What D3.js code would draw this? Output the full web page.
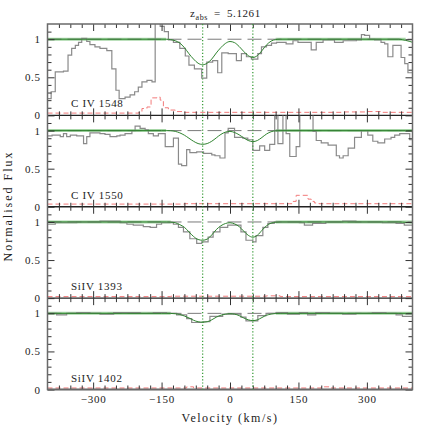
<!DOCTYPE html>
<html>
<head>
<meta charset="utf-8">
<script src="https://cdn.jsdelivr.net/npm/d3@7"></script>
<style>
  body { margin: 0; background: #fff; }
  svg { display: block; }
  text { font-family: "Liberation Serif", "Times New Roman", serif; fill: #222; }
</style>
</head>
<body>
<div id="chart"></div>
<script>
// ion names per panel, top to bottom
var lineNames = ["C IV 1548", "C IV 1550", "SiIV 1393", "SiIV 1402"];

// velocities of the two fitted components (km/s)
var compVel = [-60, 50];

// tick values
var xMajorTicks = [-300, -150, 0, 150, 300];
var yMajorTicks = [0, 0.5, 1];
var yTickLabels = ["0", "0.5", "1"];
var yMinorTicks = [0.1, 0.2, 0.3, 0.4, 0.6, 0.7, 0.8, 0.9, 1.1];
var zabs = "5.1261";

// observed flux, step histograms: bin edges and flux per bin
var c1548Edges = [-400,-392,-383,-365,-355,-347,-339,-332,-325,-314,-307,-296,-285,-270,-259,-250,-243,-230,-219,-209,-201,-193,-182,-171,-164,-153,-144,-135,-124,-110,-98,-90,-78,-62,-51,-38,-27,-18,-4,14,25,36,47,61,69,80,91,102,123,138,149,167,178,189,204,229,248,277,288,295,306,317,331,339,346,357,368,375,383,390,400];
var c1548Flux = [0.22,0.31,0.57,0.58,0.79,0.88,0.92,0.96,1.01,0.97, 0.93,0.90,0.88,0.85,0.61,0.33,0.22,0.24,0.27,0.31, 0.37,0.44,0.46,0.44,1.3,1.17,1.1,0.99,0.96,0.88, 0.78,0.66,0.61,0.49,0.70,0.72,0.56,0.82,0.81,0.72, 0.81,0.77,0.74,0.81,0.90,0.92,0.95,0.96,0.94,0.98, 0.96,0.96,0.86,0.96,0.99,0.96,0.98,0.99,1.06,1.05, 1.0,0.99,0.96,0.94,0.77,0.92,0.92,0.76,0.68,0.56];

var c1550Edges = [-400,-390,-372,-365,-358,-350,-336,-321,-314,-307,-285,-274,-263,-248,-241,-230,-215,-208,-197,-186,-179,-168,-157,-142,-124,-113,-106,-95,-88,-73,-58,-40,-33,-22,-11,-4,10,28,39,50,65,76,87,98,105,116,123,131,145,153,182,189,200,215,233,240,248,259,273,288,302,313,324,339,353,361,372,386,394,400];
var c1550Flux = [0.93,0.94,0.92,0.96,0.92,0.94,0.93,0.83,0.92,0.97, 0.96,0.95,0.92,0.93,0.94,0.96,1.0,1.06,1.03,1.01, 0.96,0.93,0.96,0.79,0.90,0.56,0.54,0.75,0.71,0.72, 0.70,0.68,0.67,0.64,0.97,1.03,0.91,0.90,0.88,0.74, 0.80,0.74,0.82,1.3,0.83,1.3,0.96,0.66,0.79,1.3, 0.99,0.87,0.84,0.81,0.67,0.64,0.67,0.77,0.91,1.0, 0.94,0.86,0.84,0.89,0.91,0.94,0.96,0.96,0.88];

var si1393Edges = [-400,-383,-358,-336,-314,-285,-255,-241,-226,-212,-190,-175,-161,-150,-124,-113,-102,-88,-73,-62,-48,-37,-22,-5,24,35,50,57,72,83,97,152,163,181,210,247,276,305,334,364,382,400];
var si1393Flux = [0.97,0.99,0.99,1.0,1.0,1.01,1.01,0.99,0.97,0.96, 0.94,0.93,0.97,0.99,0.97,0.93,0.87,0.78,0.72,0.74, 0.80,0.87,0.93,0.96,0.87,0.76,0.74,0.82,0.93,0.98, 1.0,0.99,0.96,0.98,1.0,1.01,1.0,1.0,0.99,0.98, 0.96];

var si1402Edges = [-400,-380,-358,-336,-307,-285,-255,-226,-197,-168,-139,-117,-95,-84,-58,-44,-16,6,24,35,61,79,101,126,152,170,188,218,247,276,312,342,364,378,400];
var si1402Flux = [1.0,0.98,1.0,1.01,1.0,0.99,1.01,1.01,1.0,1.01, 1.0,0.98,0.93,0.88,0.89,0.96,0.99,0.99,0.95,0.90, 0.97,1.0,1.01,0.99,1.01,0.98,1.01,1.0,0.99,1.0, 1.01,1.0,0.98,0.96];

// error spectra (steps)
var err1548V = [-400,-200,-193,-182,-173,-160,-153,-146,-135,-120,-100,250,300,330,400];
var err1548E = [0.03,0.04,0.09,0.11,0.23,0.24,0.20,0.10,0.07,0.05,0.04,0.045,0.05,0.04,0.04];
var err1550V = [-400,-100,130,138,145,171,178,185,195,400];
var err1550E = [0.035,0.04,0.04,0.07,0.15,0.10,0.07,0.05,0.04,0.04];
var err1393V = [-400,-150,-130,80,110,400];
var err1393E = [0.02,0.02,0.025,0.03,0.02,0.02];
var err1402V = [-400,-110,-95,-80,180,200,220,400];
var err1402E = [0.02,0.02,0.035,0.02,0.02,0.035,0.02,0.02];

// fitted model, sampled velocities and values per panel
var modelV = [-400,-150,-140,-130,-120,-110,-100,-90,-80,-70,-60,-50,-40,-30,-20,-10,0,10,20,30,40,50,60,70,80,90,100,110,370,385,400];
var model1548 = [1,1,1,0.995,0.98,0.95,0.89,0.81,0.74,0.685,0.665,0.685,0.74,0.82,0.89,0.945,0.97,0.955,0.905,0.84,0.785,0.76,0.785,0.85,0.925,0.975,0.995,1,1,0.985,0.96];
var model1550 = [1,1,1,0.998,0.99,0.97,0.94,0.90,0.86,0.83,0.82,0.83,0.86,0.905,0.95,0.98,0.99,0.975,0.945,0.905,0.87,0.855,0.87,0.91,0.955,0.985,0.997,1,1,1,1];
var model1393 = [1,1,1,0.998,0.99,0.965,0.93,0.87,0.81,0.77,0.76,0.775,0.83,0.9,0.95,0.98,0.99,0.975,0.94,0.88,0.825,0.80,0.825,0.89,0.95,0.985,0.997,1,1,0.995,0.99];
var model1402 = [1,1,1,0.999,0.995,0.985,0.965,0.94,0.91,0.89,0.885,0.89,0.915,0.95,0.975,0.99,0.995,0.99,0.97,0.94,0.915,0.905,0.915,0.945,0.975,0.99,0.998,1,1,1,1];

// light green continuum stretches
var cont1548 = [[-400,-140],[100,385]];
var cont1550 = [[-400,-140],[100,400]];
var cont1393 = [[-400,-130],[100,400]];
var cont1402 = [[-400,-130],[100,400]];

var panels = [
  {name: lineNames[0], edges: c1548Edges, flux: c1548Flux, errV: err1548V, errE: err1548E, model: model1548, cont: cont1548},
  {name: lineNames[1], edges: c1550Edges, flux: c1550Flux, errV: err1550V, errE: err1550E, model: model1550, cont: cont1550},
  {name: lineNames[2], edges: si1393Edges, flux: si1393Flux, errV: err1393V, errE: err1393E, model: model1393, cont: cont1393},
  {name: lineNames[3], edges: si1402Edges, flux: si1402Flux, errV: err1402V, errE: err1402E, model: model1402, cont: cont1402}
];

var serif = "'Liberation Serif', 'Times New Roman', serif";

// dimensions
var W = 436, H = 436;
var margin = {top: 24, right: 23.5, bottom: 46.5, left: 47.5};
var plotW = W - margin.left - margin.right;
var plotH = H - margin.top - margin.bottom;
var panelH = plotH / panels.length;
var left = margin.left, right = W - margin.right;

var x = d3.scaleLinear().domain([-400, 400]).range([left, right]);

var xMinorTicks = d3.range(-375, 400, 25).filter(function(v){ return xMajorTicks.indexOf(v) < 0; });

var svg = d3.select("#chart").append("svg")
  .attr("width", W)
  .attr("height", H);

var defs = svg.append("defs");

var stepLine = d3.line().curve(d3.curveStepAfter);

panels.forEach(function(p, i){
  var top = margin.top + i * panelH;
  var bottom = top + panelH;
  var y = d3.scaleLinear().domain([0, 1.2]).range([bottom, top]);

  defs.append("clipPath").attr("id", "clip" + i)
    .append("rect")
    .attr("x", left).attr("y", top)
    .attr("width", plotW).attr("height", panelH);

  var g = svg.append("g").attr("clip-path", "url(#clip" + i + ")");

  // light green continuum
  p.cont.forEach(function(s){
    g.append("line")
      .attr("x1", x(s[0])).attr("x2", x(s[1]))
      .attr("y1", y(1)).attr("y2", y(1))
      .attr("stroke", "#a6d6a6")
      .attr("stroke-width", 3);
  });

  // continuum level
  g.append("line")
    .attr("x1", left).attr("x2", right)
    .attr("y1", y(1)).attr("y2", y(1))
    .attr("stroke", "#7a7a7a")
    .attr("stroke-width", 1)
    .attr("stroke-dasharray", "14,6");

  // error spectrum
  var errPts = p.errV.map(function(v, k){ return [x(v), y(p.errE[k])]; });
  g.append("path")
    .attr("d", stepLine(errPts))
    .attr("fill", "none")
    .attr("stroke", "#f27a7a")
    .attr("stroke-width", 1)
    .attr("stroke-dasharray", "5,3");

  // observed flux
  var n = p.flux.length;
  var fluxPts = p.edges.map(function(v, k){ return [x(v), y(p.flux[Math.min(k, n - 1)])]; });
  g.append("path")
    .attr("d", stepLine(fluxPts))
    .attr("fill", "none")
    .attr("stroke", "#8a8a8a")
    .attr("stroke-width", 1.2);

  // model fit
  var modelLine = d3.line()
    .x(function(d){ return x(d[0]); })
    .y(function(d){ return y(d[1]); })
    .curve(d3.curveMonotoneX);
  g.append("path")
    .attr("d", modelLine(modelV.map(function(v, k){ return [v, p.model[k]]; })))
    .attr("fill", "none")
    .attr("stroke", "#2f832f")
    .attr("stroke-width", 1);

  // zero line
  svg.append("line")
    .attr("x1", left).attr("x2", right)
    .attr("y1", y(0)).attr("y2", y(0))
    .attr("stroke", "#222")
    .attr("stroke-width", 1.3);

  // ticks, all pointing inward
  [d3.axisTop(x).tickValues(xMajorTicks).tickSize(7),
   d3.axisTop(x).tickValues(xMinorTicks).tickSize(4)].forEach(function(ax){
    svg.append("g").attr("class", "tk").attr("transform", "translate(0," + bottom + ")")
      .call(ax.tickFormat(""));
  });
  [d3.axisBottom(x).tickValues(xMajorTicks).tickSize(7),
   d3.axisBottom(x).tickValues(xMinorTicks).tickSize(4)].forEach(function(ax){
    svg.append("g").attr("class", "tk").attr("transform", "translate(0," + top + ")")
      .call(ax.tickFormat(""));
  });
  [d3.axisRight(y).tickValues(yMajorTicks).tickSize(7),
   d3.axisRight(y).tickValues(yMinorTicks).tickSize(4)].forEach(function(ax){
    svg.append("g").attr("class", "tk").attr("transform", "translate(" + left + ",0)")
      .call(ax.tickFormat(""));
  });
  [d3.axisLeft(y).tickValues(yMajorTicks).tickSize(7),
   d3.axisLeft(y).tickValues(yMinorTicks).tickSize(4)].forEach(function(ax){
    svg.append("g").attr("class", "tk").attr("transform", "translate(" + right + ",0)")
      .call(ax.tickFormat(""));
  });

  // y tick labels
  var yl = svg.append("g").attr("transform", "translate(" + left + ",0)")
    .call(d3.axisLeft(y).tickValues(yMajorTicks).tickSize(0).tickPadding(7)
      .tickFormat(function(d, k){ return yTickLabels[k]; }));
  yl.attr("font-family", serif).attr("font-size", 11);
  yl.select(".domain").remove();
  yl.selectAll("text")
    .style("letter-spacing", "0.6px")
    .attr("fill", "#222");

  // ion label
  svg.append("text")
    .attr("x", 71)
    .attr("y", bottom - 8)
    .attr("font-family", serif)
    .style("font-size", "11px")
    .style("letter-spacing", "0.7px")
    .text(p.name);

  // x tick labels on the last panel
  if (i === panels.length - 1) {
    var xl = svg.append("g").attr("transform", "translate(0," + bottom + ")")
      .call(d3.axisBottom(x).tickValues(xMajorTicks).tickSize(0));
    xl.attr("font-family", serif).attr("font-size", 11);
    xl.select(".domain").remove();
    xl.selectAll("text")
      .attr("y", 13).attr("dy", 0)
      .style("letter-spacing", "0.8px")
      .attr("fill", "#222");
  }
});

svg.selectAll(".tk .domain").remove();
svg.selectAll(".tk line").attr("stroke", "#333").attr("stroke-width", 1);

// outer frame
svg.append("rect")
  .attr("x", left).attr("y", margin.top)
  .attr("width", plotW).attr("height", plotH)
  .attr("fill", "none")
  .attr("stroke", "#6a6a6a")
  .attr("stroke-width", 1.5);

// component markers
compVel.forEach(function(v){
  svg.append("line")
    .attr("x1", x(v)).attr("x2", x(v))
    .attr("y1", margin.top).attr("y2", margin.top + plotH)
    .attr("stroke", "#3f9f3f")
    .attr("stroke-width", 1.3)
    .attr("stroke-dasharray", "1.2,2");
});

// title
var title = svg.append("text")
  .attr("x", 190)
  .attr("y", 17)
  .attr("font-family", serif)
  .style("font-size", "11px")
  .style("letter-spacing", "0.6px");
title.append("tspan").text("z");
title.append("tspan").attr("dy", 2.5).style("font-size", "8px").text("abs");
title.append("tspan").attr("dy", -2.5).text("\u2002=\u2002" + zabs);

// axis labels
svg.append("text")
  .attr("x", 230)
  .attr("y", 422)
  .attr("text-anchor", "middle")
  .attr("font-family", serif)
  .style("font-size", "12px")
  .style("letter-spacing", "1.5px")
  .text("Velocity (km/s)");

svg.append("text")
  .attr("transform", "translate(12,206) rotate(-90)")
  .attr("text-anchor", "middle")
  .attr("font-family", serif)
  .style("font-size", "12px")
  .style("letter-spacing", "2px")
  .text("Normalised Flux");
</script>
</body>
</html>
